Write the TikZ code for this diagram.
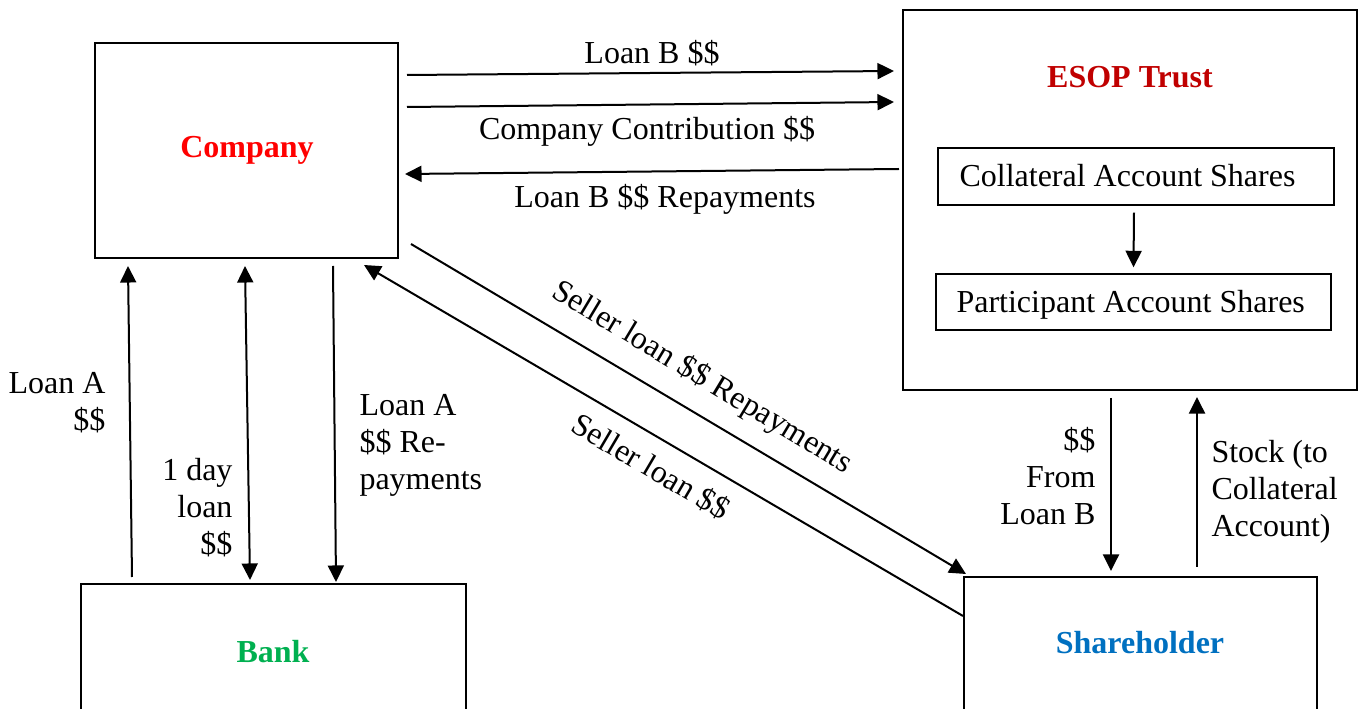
\documentclass[tikz,border=0pt]{standalone}
\usepackage{fontspec}
\setmainfont{Liberation Serif}
\usetikzlibrary{arrows.meta,calc,fit}
\definecolor{compred}{HTML}{FF0000}
\definecolor{esopred}{HTML}{C00000}
\definecolor{bankgreen}{HTML}{00B050}
\definecolor{shblue}{HTML}{0070C0}
\begin{document}
\begin{tikzpicture}[x=0.375pt,y=-0.375pt,
 box/.style={draw,line width=0.75pt,inner sep=0pt},
 subbox/.style={draw,line width=0.5pt,inner sep=0pt},
 arr/.style={line width=0.75pt,-{Triangle[length=6.2pt,width=6pt]}},
 darr/.style={line width=0.75pt,{Triangle[length=6.2pt,width=6pt]}-{Triangle[length=6.2pt,width=6pt]}},
 txt/.style={font=\fontsize{12}{13.9}\selectfont,inner sep=0pt},
 ttl/.style={font=\fontsize{12}{13.9}\selectfont\bfseries,inner sep=0pt,anchor=base}]
\useasboundingbox (0,0) rectangle (1366,709);
\clip (0,0) rectangle (1366,709);
% boxes
\node[box,fit={(95,43)(398,258)}] (company) {};
\node[box,fit={(903,10)(1357,390)}] (esop) {};
\node[subbox,fit={(938,148)(1334,205)}] (coll) {};
\node[subbox,fit={(936,274)(1331,330)}] (part) {};
\node[box,fit={(81,584)(466,760)}] (bank) {};
\node[box,fit={(964,577)(1317,760)}] (share) {};
% titles
\node[ttl,text=compred] (tcomp) at (247,158) {Company};
\node[ttl,text=esopred] (tesop) at (1130,88) {ESOP Trust};
\node[ttl,text=bankgreen] (tbank) at (273,663) {Bank};
\node[ttl,text=shblue] (tshare) at (1140,654) {Shareholder};
\node[txt,anchor=base west] (tcoll) at (959,187) {Collateral Account Shares};
\node[txt,anchor=base west] (tpart) at (956,313) {Participant Account Shares};
% connectors
\draw[arr] ($(company.north east)+(8,33)$) -- ($(esop.north west)+(-8,62)$);
\draw[arr] ($(company.north east)+(8,65)$) -- ($(esop.north west)+(-8,93)$);
\draw[arr] ($(esop.north west)+(-3,160)$) -- ($(company.north east)+(6,132)$);
\draw[arr] ($(bank.north west)+(52,-6)$) -- ($(company.south west)+(34,7)$);
\draw[darr] ($(bank.north west)+(170,-3)$) -- ($(company.south west)+(151,7)$);
\draw[arr] ($(company.south west)+(239,7)$) -- ($(bank.north west)+(256,-1)$);
\draw[arr] ($(share.north west)+(0,40)$) -- ($(company.south east)+(-35,6)$);
\draw[arr] ($(company.south east)+(12,-15)$) -- ($(share.north west)+(3,-2)$);
\draw[arr] ($(esop.south west)+(209,7)$) -- ($(share.north west)+(148,-5)$);
\draw[arr] ($(share.north west)+(234,-9)$) -- ($(esop.south west)+(295,6)$);
\draw[arr] ($(coll.south)+(-2,7)$) -- ($(part.north)+(0,-6)$);
% labels
\node[txt,anchor=base] (lb) at (652,64) {Loan B \$\$};
\node[txt,anchor=base] (lc) at (647,140) {Company Contribution \$\$};
\node[txt,anchor=base] (lbr) at (665,208) {Loan B \$\$ Repayments};
\node[txt,align=right,anchor=base east] (la) at (106,431) {Loan A\\\$\$};
\node[txt,align=right,anchor=base east] (lday) at (233,555) {1 day\\loan\\\$\$};
\node[txt,align=left,anchor=base west] (lar) at (359,490) {Loan A\\\$\$ Re-\\payments};
\node[txt,align=right,anchor=base east] (lfb) at (1096,525) {\$\$\\From\\Loan B};
\node[txt,align=left,anchor=base west] (lst) at (1211,537) {Stock (to\\Collateral\\Account)};
\node[txt,rotate=-31] (lslr) at (702,378) {Seller loan \$\$ Repayments};
\node[txt,rotate=-30.5] (lsl) at (651,467) {Seller loan \$\$};
\end{tikzpicture}
\end{document}
